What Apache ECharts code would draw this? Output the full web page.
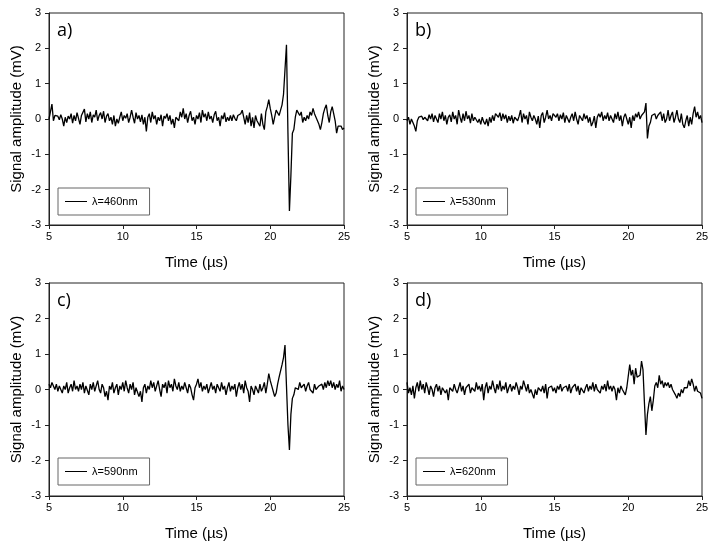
<!DOCTYPE html>
<html>
<head>
<meta charset="utf-8">
<script src="https://cdn.jsdelivr.net/npm/echarts@6/dist/echarts.min.js"></script>
<style>html,body{margin:0;padding:0;background:#fff}#c{width:716px;height:551px}</style>
</head>
<body>
<div id="c"></div>
<script>
// Sampling of each trace: starts at 5 µs, one value every 0.1 µs
const tStart = 5;
const tStep = 0.1;

const panelLabels = ['a)', 'b)', 'c)', 'd)'];
const seriesNames = ['λ=460nm', 'λ=530nm', 'λ=590nm', 'λ=620nm'];
const xTicks = [5, 10, 15, 20, 25];
const yTicks = [-3, -2, -1, 0, 1, 2, 3];

const sig460 = [
  0.00, 0.05, 0.42, -0.05, 0.10, 0.05, 0.08, -0.02, 0.12, 0.00,
  -0.20, 0.05, -0.10, 0.08, 0.00, 0.15, -0.12, 0.10, -0.05, 0.18,
  0.02, -0.15, 0.10, 0.05, 0.28, -0.08, 0.15, 0.00, 0.20, -0.10,
  0.12, 0.05, 0.25, -0.05, 0.10, 0.18, 0.00, 0.22, -0.10, 0.08,
  0.15, -0.05, 0.05, -0.15, 0.10, -0.20, 0.00, -0.12, 0.05, 0.20,
  -0.05, 0.10, 0.02, 0.15, -0.10, 0.05, 0.25, 0.05, -0.12, 0.18,
  0.00, 0.10, -0.08, 0.12, -0.15, 0.05, -0.35, 0.05, 0.15, -0.10,
  0.20, 0.00, 0.10, -0.15, 0.05, -0.05, 0.12, -0.20, 0.08, 0.02,
  0.15, -0.05, 0.10, -0.15, 0.00, -0.25, 0.05, 0.10, -0.05, 0.20,
  0.05, 0.30, 0.00, 0.15, -0.10, 0.10, 0.22, -0.05, 0.05, -0.15,
  0.10, 0.00, 0.18, -0.10, 0.25, 0.05, 0.15, -0.05, 0.20, 0.00,
  0.08, -0.10, 0.12, 0.22, -0.05, 0.05, -0.20, 0.10, 0.00, 0.18,
  -0.08, 0.05, -0.05, 0.10, -0.05, 0.12, 0.02, -0.05, 0.10, 0.05,
  0.15, 0.25, 0.05, -0.15, 0.10, -0.10, 0.18, -0.20, 0.05, -0.25,
  0.10, -0.05, 0.00, -0.20, 0.15, -0.15, -0.30, 0.20, 0.35, 0.55,
  0.30, 0.10, -0.15, 0.05, 0.25, 0.30, 0.10, 0.25, 0.40, 0.70,
  1.40, 2.10, -0.40, -2.60, -1.60, -0.40, -0.30, 0.05, 0.25, 0.30,
  0.10, 0.20, -0.10, 0.05, -0.05, 0.10, 0.00, 0.20, 0.10, 0.30,
  0.15, 0.05, 0.10, -0.15, -0.30, -0.10, 0.15, 0.30, 0.40, 0.10,
  -0.10, 0.20, 0.35, 0.15, -0.05, -0.40, -0.20, -0.15, -0.20, -0.30,
  -0.25
];

const sig530 = [
  -0.05, 0.05, -0.15, 0.00, -0.10, -0.20, -0.35, -0.05, 0.05, 0.00,
  0.08, -0.02, 0.05, 0.10, -0.05, 0.12, 0.00, 0.15, -0.08, 0.10,
  0.05, -0.10, 0.15, 0.00, 0.20, -0.05, 0.10, -0.15, 0.05, 0.12,
  -0.08, 0.20, 0.00, 0.10, -0.15, 0.25, 0.05, -0.10, 0.15, -0.05,
  0.22, 0.00, 0.10, -0.12, 0.15, -0.05, 0.05, 0.10, -0.10, 0.00,
  -0.15, 0.05, -0.08, -0.15, 0.00, -0.20, 0.05, -0.10, 0.10, -0.05,
  0.15, 0.20, 0.05, 0.18, -0.05, 0.15, 0.00, 0.12, -0.10, 0.08,
  -0.05, 0.10, -0.12, 0.05, 0.00, -0.05, 0.08, 0.25, -0.10, 0.15,
  0.00, 0.10, -0.15, 0.20, 0.05, -0.05, 0.10, 0.00, -0.15, 0.08,
  -0.25, 0.10, 0.18, -0.10, 0.05, 0.25, 0.00, 0.10, -0.05, 0.15,
  0.20, 0.05, 0.15, -0.05, 0.12, 0.00, 0.18, -0.10, 0.10, 0.05,
  -0.10, 0.05, 0.15, -0.05, 0.20, 0.00, -0.15, 0.10, 0.05, -0.05,
  0.15, 0.00, 0.10, -0.10, 0.05, -0.20, -0.10, 0.08, -0.25, 0.05,
  0.15, 0.05, 0.20, -0.05, 0.10, 0.00, 0.18, -0.05, 0.10, 0.05,
  -0.10, 0.15, 0.00, 0.20, -0.05, 0.10, -0.20, 0.05, 0.15, 0.00,
  -0.15, 0.05, -0.25, 0.10, -0.05, 0.15, 0.05, 0.20, 0.00, 0.10,
  0.05, 0.20, 0.45, -0.55, -0.20, -0.10, 0.10, 0.05, 0.15, 0.00,
  0.10, 0.05, 0.20, -0.05, 0.15, -0.10, 0.00, 0.25, -0.05, 0.10,
  0.20, -0.10, 0.05, 0.25, 0.00, -0.10, 0.15, -0.15, -0.25, -0.05,
  0.10, -0.20, 0.05, -0.15, 0.15, 0.35, 0.05, 0.20, 0.00, 0.10,
  -0.10
];

const sig590 = [
  0.15, 0.05, 0.20, 0.10, 0.00, 0.15, -0.05, 0.10, 0.05, -0.10,
  0.10, 0.00, 0.20, -0.10, 0.05, 0.15, -0.05, 0.25, 0.00, 0.10,
  -0.05, 0.15, 0.00, 0.20, -0.10, 0.10, 0.05, -0.15, 0.15, 0.00,
  0.20, -0.05, 0.10, 0.25, 0.00, -0.10, 0.15, 0.05, -0.20, -0.05,
  -0.30, 0.10, 0.00, 0.20, -0.10, 0.05, 0.15, -0.15, 0.10, 0.00,
  0.20, -0.05, 0.25, 0.05, -0.10, 0.15, 0.00, 0.20, -0.15, 0.05,
  0.10, -0.20, -0.05, -0.35, 0.05, 0.15, -0.10, 0.10, 0.00, 0.25,
  0.05, 0.20, -0.05, 0.10, 0.25, 0.00, -0.20, 0.15, 0.05, 0.20,
  -0.10, 0.25, 0.05, 0.15, -0.05, 0.30, 0.10, 0.00, 0.20, -0.05,
  0.10, 0.00, 0.20, 0.05, -0.10, 0.15, 0.05, -0.15, -0.30, 0.05,
  0.15, 0.30, 0.05, 0.20, -0.05, 0.10, 0.00, 0.15, -0.10, 0.05,
  0.20, 0.00, 0.10, -0.10, 0.15, 0.05, -0.05, 0.20, 0.00, 0.10,
  -0.15, 0.05, 0.20, -0.05, 0.10, 0.00, 0.15, -0.20, 0.05, 0.20,
  0.00, 0.15, -0.10, 0.25, 0.05, -0.05, -0.35, 0.10, 0.00, -0.15,
  0.10, 0.00, -0.10, 0.15, -0.05, 0.05, 0.20, -0.10, 0.15, 0.45,
  0.25, 0.10, -0.05, -0.20, -0.10, 0.15, 0.35, 0.40, 0.70, 0.90,
  1.25, 0.10, -1.00, -1.70, -0.70, -0.25, -0.15, 0.05, 0.10, 0.00,
  0.20, 0.05, 0.00, 0.15, -0.05, 0.10, 0.20, 0.00, 0.05, -0.10,
  0.15, 0.00, -0.05, 0.10, 0.05, 0.15, 0.00, 0.20, 0.05, 0.25,
  0.10, 0.25, 0.05, 0.20, 0.00, 0.15, 0.05, 0.25, -0.05, 0.10,
  0.00
];

const sig620 = [
  0.20, -0.10, 0.05, -0.15, 0.10, -0.25, 0.05, 0.20, -0.05, 0.25,
  0.00, 0.15, -0.10, 0.20, 0.05, -0.15, 0.10, 0.00, -0.20, 0.05,
  0.15, -0.05, 0.10, -0.15, 0.05, 0.10, -0.10, 0.00, -0.30, 0.05,
  0.10, -0.05, 0.15, 0.00, -0.10, 0.05, 0.20, -0.05, 0.10, -0.15,
  0.05, 0.00, 0.15, -0.10, 0.05, 0.10, -0.05, 0.20, 0.00, 0.10,
  -0.05, 0.15, -0.30, 0.05, 0.20, -0.10, 0.10, 0.00, 0.25, 0.05,
  -0.10, 0.15, 0.00, 0.25, -0.05, 0.10, 0.00, 0.20, -0.10, 0.05,
  0.15, -0.05, 0.10, 0.00, 0.20, 0.05, -0.15, 0.10, 0.00, 0.25,
  0.10, -0.05, 0.15, -0.10, 0.00, 0.05, -0.25, 0.00, -0.15, 0.05,
  0.00, -0.05, 0.10, -0.10, 0.15, -0.25, 0.05, 0.00, 0.10, -0.05,
  0.05, -0.10, 0.10, 0.00, 0.15, -0.05, 0.05, 0.00, 0.10, -0.05,
  0.15, -0.10, 0.05, 0.00, 0.15, -0.05, 0.10, -0.15, 0.05, 0.00,
  -0.10, 0.05, 0.15, -0.05, 0.10, 0.00, 0.20, -0.05, 0.15, 0.00,
  0.05, -0.10, 0.10, 0.00, 0.15, -0.05, 0.25, 0.00, 0.10, -0.05,
  0.10, 0.00, -0.30, 0.05, -0.10, 0.10, 0.00, 0.05, -0.15, 0.05,
  0.00, 0.70, 0.40, 0.55, 0.15, 0.60, 0.35, 0.30, 0.40, 0.80,
  0.55, -0.40, -1.28, -0.70, -0.40, -0.20, -0.60, -0.30, 0.10, 0.20,
  0.05, 0.40, 0.15, 0.25, 0.05, 0.20, 0.10, 0.20, 0.05, 0.15,
  0.00, -0.05, -0.15, -0.25, -0.10, -0.20, 0.00, -0.10, 0.05, 0.10,
  0.05, 0.25, 0.10, 0.30, 0.15, -0.05, 0.10, -0.05, 0.00, -0.10,
  -0.25
];

const signals = [sig460, sig530, sig590, sig620];

const FONT = '"Liberation Sans", Arial, sans-serif';
const grids = [
  {left: 49, top: 13, width: 295, height: 212},
  {left: 407, top: 13, width: 295, height: 212},
  {left: 49, top: 283, width: 295, height: 213},
  {left: 407, top: 283, width: 295, height: 213}
];

const chart = echarts.init(document.getElementById('c'), null, {renderer: 'canvas'});

const option = {
  animation: false,
  backgroundColor: '#fff',
  title: grids.map((g, i) => ({
    text: panelLabels[i],
    left: g.left + 8,
    top: g.top + 9,
    padding: 0,
    textStyle: {fontFamily: '"Open Sans", sans-serif', fontSize: 18, fontWeight: 'normal', color: '#000'}
  })),
  legend: grids.map((g, i) => ({
    data: [seriesNames[i]],
    left: g.left + 9,
    top: g.top + 175,
    orient: 'horizontal',
    padding: [8, 12, 8, 7],
    borderColor: '#666',
    borderWidth: 1,
    borderRadius: 0,
    itemWidth: 22,
    itemHeight: 14,
    itemGap: 5,
    icon: 'path://M0,0L22,0L22,1L0,1Z',
    textStyle: {fontFamily: FONT, fontSize: 11, color: '#000', padding: [0, 0, 0, 0]},
    selectedMode: false
  })),
  grid: grids.map(g => ({
    left: g.left, top: g.top, width: g.width, height: g.height,
    show: true, borderColor: '#222', borderWidth: 1, backgroundColor: 'transparent'
  })),
  xAxis: grids.map((g, i) => ({
    type: 'value', gridIndex: i, min: xTicks[0], max: xTicks[xTicks.length - 1], interval: 5,
    name: 'Time (µs)', nameLocation: 'middle', nameGap: 30,
    nameTextStyle: {fontFamily: FONT, fontSize: 15, color: '#000'},
    axisLine: {show: true, onZero: false, lineStyle: {color: '#222', width: 1}},
    axisTick: {show: true, inside: false, length: 4, lineStyle: {color: '#222'}},
    axisLabel: {fontFamily: FONT, fontSize: 11, color: '#000', margin: 6},
    splitLine: {show: false}
  })),
  yAxis: grids.map((g, i) => ({
    type: 'value', gridIndex: i, min: yTicks[0], max: yTicks[yTicks.length - 1], interval: 1,
    name: 'Signal amplitude (mV)', nameLocation: 'middle', nameGap: 25,
    nameTextStyle: {fontFamily: FONT, fontSize: 15, color: '#000'},
    axisLine: {show: true, onZero: false, lineStyle: {color: '#222', width: 1}},
    axisTick: {show: true, inside: false, length: 4, lineStyle: {color: '#222'}},
    axisLabel: {fontFamily: FONT, fontSize: 11, color: '#000', margin: 8},
    splitLine: {show: false}
  })),
  series: signals.map((vals, i) => ({
    type: 'line',
    name: seriesNames[i],
    xAxisIndex: i,
    yAxisIndex: i,
    showSymbol: false,
    symbol: 'none',
    color: '#000',
    lineStyle: {color: '#000', width: 1.3},
    data: vals.map((v, k) => [+(tStart + k * tStep).toFixed(1), v])
  }))
};
chart.setOption(option);
</script>
</body>
</html>
